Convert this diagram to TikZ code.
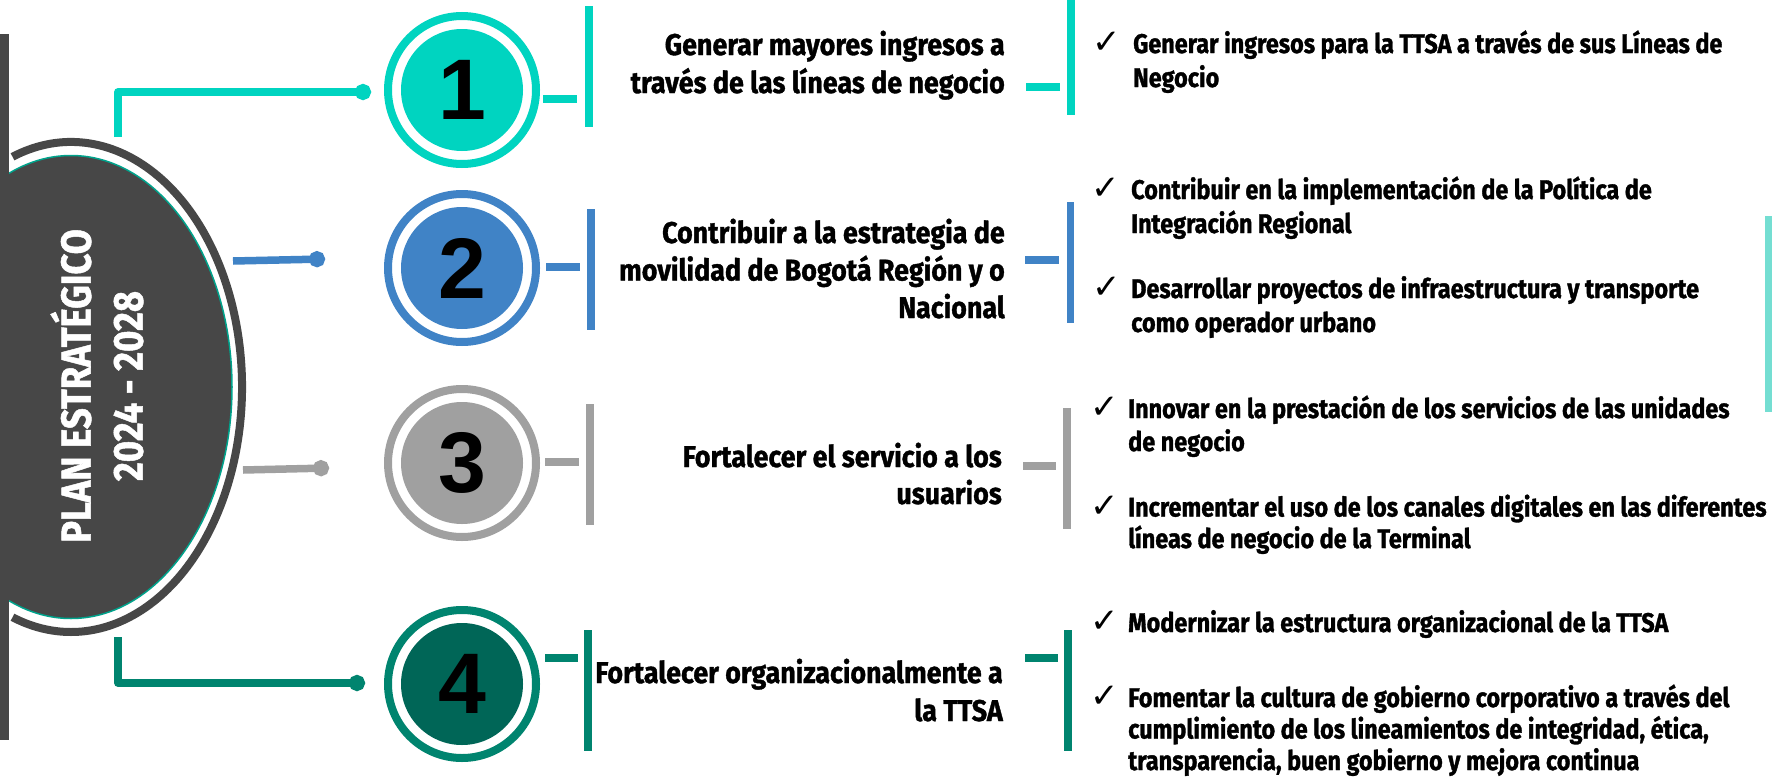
\documentclass[tikz,border=0pt]{standalone}
\usepackage{fontspec}
\newfontfamily\condA{Fira Sans}[FakeStretch=0.895, FakeBold=1.2]
\newfontfamily\condB{Fira Sans}[FakeStretch=0.868, FakeBold=1.2]
\newfontfamily\digitfont{Liberation Sans}
\newfontfamily\symfont{DejaVu Sans}
\usetikzlibrary{arrows.meta}
\definecolor{dk}{HTML}{474747}
\definecolor{cA}{HTML}{00D4C0}
\definecolor{cB}{HTML}{4083C6}
\definecolor{cC}{HTML}{A0A0A0}
\definecolor{cCf}{HTML}{A0A0A0}
\definecolor{cD}{HTML}{00846F}
\definecolor{cDf}{HTML}{006657}
\definecolor{cE}{HTML}{74DED2}
\definecolor{edge}{HTML}{00A38C}
\tikzset{
  ringshape/.style={circle, minimum size=148pt, inner sep=0pt, line width=8pt, fill=white},
  numcircle/.style={circle, minimum size=122pt, inner sep=0pt,
    font=\digitfont\bfseries\fontsize{86}{86}\selectfont, text=black},
  conn/.style={line width=7.5pt, line join=round, -{Circle[length=16pt,width=16pt]}},
  midtext/.style={align=right, inner sep=0pt, text=black, font=\condA\bfseries\fontsize{30}{38}\selectfont},
  bultext/.style={align=left, inner sep=0pt, text=black, font=\condB\bfseries\fontsize{27}{34}\selectfont},
  bultextb/.style={bultext, font=\condB\bfseries\fontsize{27}{31.5}\selectfont},
  chk/.style={inner sep=0pt, text=black, font=\symfont\fontsize{34}{34}\selectfont},
}
\begin{document}
\begin{tikzpicture}[x=1pt, y=-1pt]
\useasboundingbox (0,0) rectangle (1772,779);
\fill[white] (0,0) rectangle (1772,779);
% big ellipse
\fill[dk, draw=edge, line width=1.5pt] (71,387) ellipse [x radius=161, y radius=231.5];
\draw[dk, line width=8pt] (71,387) ++(-110:171 and 245) arc [start angle=-110, end angle=110, x radius=171, y radius=245];
\fill[dk] (0,34) rectangle (8.5,740);
\node[rotate=90, text=white, align=center, inner sep=0pt,
  font=\condB\bfseries\fontsize{42}{52}\selectfont] (title) at (97,386) {PLAN ESTRATÉGICO\\2024 - 2028};
% circles
\node[ringshape, draw=cA] (r1) at (462,90) {};
\node[numcircle, fill=cA] (n1) at (r1.center) {1};
\node[ringshape, draw=cB] (r2) at (462,268) {};
\node[numcircle, fill=cB] (n2) at (r2.center) {2};
\node[ringshape, draw=cC] (r3) at (462,463) {};
\node[numcircle, fill=cCf] (n3) at (r3.center) {3};
\node[ringshape, draw=cD] (r4) at (462,684) {};
\node[numcircle, fill=cDf] (n4) at (r4.center) {4};
% connectors
\coordinate (s1) at (118,137); \coordinate (k1) at (118,92); \coordinate (d1) at (371,92);
\coordinate (s2) at (233,261); \coordinate (d2) at (325,259);
\coordinate (s3) at (243,470); \coordinate (d3) at (329,468);
\coordinate (s4) at (118,637); \coordinate (k4) at (118,683); \coordinate (d4) at (365,683);
\draw[conn, cA] (s1) -- (k1) -- (d1);
\draw[conn, cB] (s2) -- (d2);
\draw[conn, cC] (s3) -- (d3);
\draw[conn, cD] (s4) -- (k4) -- (d4);
% bars and dashes
\fill[cA] (543,95) rectangle (577,103); \fill[cA] (585,6) rectangle (593,127);
\fill[cA] (1026,83) rectangle (1060,91); \fill[cA] (1067,0) rectangle (1075,115);
\fill[cB] (546,263) rectangle (580,271); \fill[cB] (587,209) rectangle (595,330);
\fill[cB] (1025,256) rectangle (1059,264); \fill[cB] (1067,202) rectangle (1074,323);
\fill[cC] (545,458) rectangle (579,466); \fill[cC] (586,404) rectangle (594,525);
\fill[cC] (1023,462) rectangle (1056,470); \fill[cC] (1063,408) rectangle (1071,529);
\fill[cD] (545,654) rectangle (578,662); \fill[cD] (584,630) rectangle (592,751);
\fill[cD] (1025,654) rectangle (1058,662); \fill[cD] (1064,630) rectangle (1072,751);
\fill[cE] (1765,216) rectangle (1772,412);
% middle texts (anchor on last line baseline)
\node[midtext, anchor=base east] (t1) at (1005,93) {Generar mayores ingresos a\\través de las líneas de negocio};
\node[midtext, anchor=base east, font=\condA\bfseries\fontsize{30}{37.5}\selectfont] (t2) at (1005,318) {Contribuir a la estrategia de\\movilidad de Bogotá Región y o\\Nacional};
\node[midtext, anchor=base east, font=\condA\bfseries\fontsize{30}{37}\selectfont] (t3) at (1002,504) {Fortalecer el servicio a los\\usuarios\hspace{9pt}};
\node[midtext, anchor=base east] (t4) at (1003,721) {Fortalecer organizacionalmente a\\la TTSA};
% bullets
\node[chk, anchor=base] (c1) at (1107,53) {✓};
\node[bultext, anchor=base west] (b1) at (1133,87) {Generar ingresos para la TTSA a través de sus Líneas de\\Negocio};
\node[chk, anchor=base] (c2) at (1106,199) {✓};
\node[bultext, anchor=base west] (b2) at (1131,233) {Contribuir en la implementación de la Política de\\Integración Regional};
\node[chk, anchor=base] (c3) at (1107,298) {✓};
\node[bultext, anchor=base west] (b3) at (1131,332) {Desarrollar proyectos de infraestructura y transporte\\como operador urbano};
\node[chk, anchor=base] (c4) at (1105,418) {✓};
\node[bultext, anchor=base west, font=\condB\bfseries\fontsize{27}{33}\selectfont] (b4) at (1128,451) {Innovar en la prestación de los servicios de las unidades\\de negocio};
\node[chk, anchor=base] (c5) at (1105,517) {✓};
\node[bultextb, anchor=base west] (b5) at (1128,548) {Incrementar el uso de los canales digitales en las diferentes\\líneas de negocio de la Terminal};
\node[chk, anchor=base] (c6) at (1105,632) {✓};
\node[bultext, anchor=base west] (b6) at (1128,632) {Modernizar la estructura organizacional de la TTSA};
\node[chk, anchor=base] (c7) at (1105,707) {✓};
\node[bultextb, anchor=base west] (b7) at (1128,770) {Fomentar la cultura de gobierno corporativo a través del\\cumplimiento de los lineamientos de integridad, ética,\\transparencia, buen gobierno y mejora continua};
\end{tikzpicture}
\end{document}
